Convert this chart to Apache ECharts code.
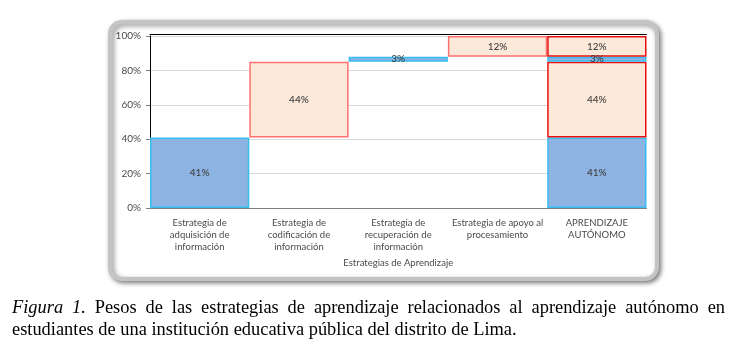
<!DOCTYPE html>
<html>
<head>
<meta charset="utf-8">
<script src="https://cdn.jsdelivr.net/npm/echarts@6/dist/echarts.min.js"></script>
<style>
  html, body { margin: 0; padding: 0; background: #fff; }
  #chart { position: absolute; left: 0; top: 0; width: 743px; height: 357px; }
  #caption { position: absolute; left: 12px; top: 297px; width: 713px;
    font-family: "Liberation Serif", "Times New Roman", serif; font-size: 18.4px;
    line-height: 21.5px; color: #000; }
  #caption .l1 { text-align: justify; text-align-last: justify; white-space: nowrap; }
  #caption .l2 { white-space: nowrap; }
</style>
</head>
<body>
<div id="chart"></div>
<div id="caption">
  <div class="l1"><i>Figura 1.</i> Pesos de las estrategias de aprendizaje relacionados al aprendizaje autónomo en</div>
  <div class="l2">estudiantes de una institución educativa pública del distrito de Lima.</div>
</div>
<script>
// ---- data ----
const categories = [
  'Estrategia de adquisición de información',
  'Estrategia de codificación de información',
  'Estrategia de recuperación de información',
  'Estrategia de apoyo al procesamiento',
  'APRENDIZAJE AUTÓNOMO'
];
const tickLabels = [
  'Estrategia de\nadquisición de\ninformación',
  'Estrategia de\ncodificación de\ninformación',
  'Estrategia de\nrecuperación de\ninformación',
  'Estrategia de apoyo al\nprocesamiento',
  'APRENDIZAJE\nAUTÓNOMO'
];
const strategyValues = [41, 44, 3, 12];   // % weight of each strategy
const yTicks = [0, 20, 40, 60, 80, 100];
const axisTitle = 'Estrategias de Aprendizaje';

// ---- styles ----
const blueFill = '#8DB3E2', blueBorder = '#38BDF0';
const redFill = '#FDE9D9', redBorder = '#FF7070', redBorderTotal = '#E81010';
const styleFor = i => (i % 2 === 0)
  ? { fill: blueFill, border: blueBorder, borderTotal: blueBorder }
  : { fill: redFill, border: redBorder, borderTotal: redBorderTotal };

// invisible base of the waterfall (cumulative sums)
const n = strategyValues.length;
const base = [];
let acc = 0;
for (let i = 0; i < n; i++) { base.push(acc); acc += strategyValues[i]; }
base.push(0);

const series = [{
  type: 'bar', stack: 'w', data: base, silent: true,
  itemStyle: { color: 'transparent', borderColor: 'transparent' },
  barCategoryGap: '0%'
}];
strategyValues.forEach((v, i) => {
  const s = styleFor(i);
  const data = categories.map((c, j) => {
    if (j === i) return { value: v, itemStyle: { color: s.fill, borderColor: s.border } };
    if (j === n) return { value: v, itemStyle: { color: s.fill, borderColor: s.borderTotal } };
    return '-';
  });
  series.push({
    type: 'bar', stack: 'w', data: data, barCategoryGap: '0%',
    itemStyle: { borderWidth: 1.5 },
    label: { show: true, position: 'inside', formatter: p => p.value + '%',
      fontFamily: 'Lato, "Liberation Sans", sans-serif', fontSize: 10, fontWeight: 500, color: '#404040' }
  });
});

const chart = echarts.init(document.getElementById('chart'), null, { renderer: 'canvas' });
chart.setOption({
  animation: false,
  backgroundColor: '#fff',
  graphic: [{
    type: 'rect', z: -10,
    shape: { x: 110, y: 22, width: 547, height: 257, r: 12 },
    style: { fill: '#fff', stroke: '#C4C4C4', lineWidth: 4,
      shadowBlur: 5, shadowOffsetX: 2, shadowOffsetY: 2, shadowColor: 'rgba(0,0,0,0.45)' }
  }],
  grid: { left: 150, right: 96.5, top: 36, bottom: 149, containLabel: false },
  xAxis: [{
    type: 'category', data: categories,
    axisLine: { lineStyle: { color: '#808080', width: 1 } },
    axisTick: { show: false },
    axisLabel: { interval: 0, margin: 9, lineHeight: 12,
      fontFamily: 'Lato, "Liberation Sans", sans-serif', fontSize: 9.5, color: '#4A4A4A',
      formatter: (v, idx) => tickLabels[idx] },
    name: axisTitle, nameLocation: 'middle', nameGap: 50,
    nameTextStyle: { fontFamily: 'Lato, "Liberation Sans", sans-serif', fontSize: 9.5, color: '#4A4A4A' }
  }, {
    type: 'category', data: categories, position: 'top', offset: 2,
    axisLine: { show: true, lineStyle: { color: '#000', width: 1 } },
    axisTick: { show: false }, axisLabel: { show: false }
  }],
  yAxis: {
    type: 'value', min: yTicks[0], max: yTicks[yTicks.length - 1], interval: yTicks[1] - yTicks[0],
    axisLine: { show: true, lineStyle: { color: '#000', width: 1 } },
    axisTick: { show: true, length: 4, lineStyle: { color: '#808080' } },
    axisLabel: { margin: 9, formatter: '{value}%',
      fontFamily: 'Lato, "Liberation Sans", sans-serif', fontSize: 10, color: '#4A4A4A' },
    splitLine: { lineStyle: { color: '#D9D9D9', width: 1 } }
  },
  series: series
});
</script>
</body>
</html>
